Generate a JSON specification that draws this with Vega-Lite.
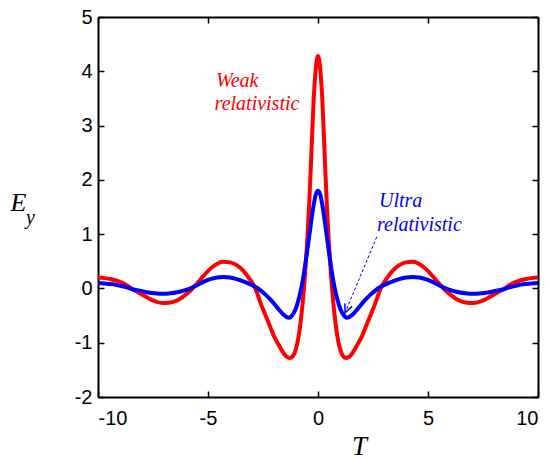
{
  "$schema": "https://vega.github.io/schema/vega-lite/v6.json",
  "width": 440,
  "height": 380,
  "autosize": {"type": "none"},
  "padding": {"left": 98, "top": 17, "right": 12, "bottom": 62},
  "background": "white",
  "config": {"view": {"stroke": null}, "axis": {"grid": false}},
  "datasets": {
    "curves": [
      {"series": "Weak", "T": -10, "E": 0.2}, {"series": "Weak", "T": -9.7, "E": 0.19}, {"series": "Weak", "T": -9.4, "E": 0.17}, {"series": "Weak", "T": -9.0, "E": 0.12}, {"series": "Weak", "T": -8.7, "E": 0.06}, {"series": "Weak", "T": -8.4, "E": -0.02}, {"series": "Weak", "T": -8.1, "E": -0.09}, {"series": "Weak", "T": -7.8, "E": -0.16}, {"series": "Weak", "T": -7.4, "E": -0.24}, {"series": "Weak", "T": -7.05, "E": -0.27}, {"series": "Weak", "T": -6.7, "E": -0.26}, {"series": "Weak", "T": -6.3, "E": -0.2}, {"series": "Weak", "T": -6.0, "E": -0.11}, {"series": "Weak", "T": -5.75, "E": -0.02}, {"series": "Weak", "T": -5.5, "E": 0.09}, {"series": "Weak", "T": -5.2, "E": 0.23}, {"series": "Weak", "T": -4.9, "E": 0.36}, {"series": "Weak", "T": -4.6, "E": 0.45}, {"series": "Weak", "T": -4.3, "E": 0.49}, {"series": "Weak", "T": -4.0, "E": 0.48}, {"series": "Weak", "T": -3.7, "E": 0.43}, {"series": "Weak", "T": -3.4, "E": 0.33}, {"series": "Weak", "T": -3.1, "E": 0.17}, {"series": "Weak", "T": -2.85, "E": 0.0}, {"series": "Weak", "T": -2.6, "E": -0.28}, {"series": "Weak", "T": -2.4, "E": -0.48}, {"series": "Weak", "T": -2.2, "E": -0.68}, {"series": "Weak", "T": -2.0, "E": -0.88}, {"series": "Weak", "T": -1.8, "E": -1.03}, {"series": "Weak", "T": -1.6, "E": -1.17}, {"series": "Weak", "T": -1.45, "E": -1.25}, {"series": "Weak", "T": -1.3, "E": -1.28}, {"series": "Weak", "T": -1.2, "E": -1.27}, {"series": "Weak", "T": -1.1, "E": -1.22}, {"series": "Weak", "T": -1.0, "E": -1.11}, {"series": "Weak", "T": -0.9, "E": -0.93}, {"series": "Weak", "T": -0.8, "E": -0.65}, {"series": "Weak", "T": -0.7, "E": -0.28}, {"series": "Weak", "T": -0.6, "E": 0.2}, {"series": "Weak", "T": -0.5, "E": 0.8}, {"series": "Weak", "T": -0.4, "E": 1.55}, {"series": "Weak", "T": -0.3, "E": 2.5}, {"series": "Weak", "T": -0.2, "E": 3.45}, {"series": "Weak", "T": -0.1, "E": 4.05}, {"series": "Weak", "T": 0, "E": 4.28},
      {"series": "Weak", "T": 0.1, "E": 4.05}, {"series": "Weak", "T": 0.2, "E": 3.45}, {"series": "Weak", "T": 0.3, "E": 2.5}, {"series": "Weak", "T": 0.4, "E": 1.55}, {"series": "Weak", "T": 0.5, "E": 0.8}, {"series": "Weak", "T": 0.6, "E": 0.2}, {"series": "Weak", "T": 0.7, "E": -0.28}, {"series": "Weak", "T": 0.8, "E": -0.65}, {"series": "Weak", "T": 0.9, "E": -0.93}, {"series": "Weak", "T": 1.0, "E": -1.11}, {"series": "Weak", "T": 1.1, "E": -1.22}, {"series": "Weak", "T": 1.2, "E": -1.27}, {"series": "Weak", "T": 1.3, "E": -1.28}, {"series": "Weak", "T": 1.45, "E": -1.25}, {"series": "Weak", "T": 1.6, "E": -1.17}, {"series": "Weak", "T": 1.8, "E": -1.03}, {"series": "Weak", "T": 2.0, "E": -0.88}, {"series": "Weak", "T": 2.2, "E": -0.68}, {"series": "Weak", "T": 2.4, "E": -0.48}, {"series": "Weak", "T": 2.6, "E": -0.28}, {"series": "Weak", "T": 2.85, "E": 0.0}, {"series": "Weak", "T": 3.1, "E": 0.17}, {"series": "Weak", "T": 3.4, "E": 0.33}, {"series": "Weak", "T": 3.7, "E": 0.43}, {"series": "Weak", "T": 4.0, "E": 0.48}, {"series": "Weak", "T": 4.3, "E": 0.49}, {"series": "Weak", "T": 4.6, "E": 0.45}, {"series": "Weak", "T": 4.9, "E": 0.36}, {"series": "Weak", "T": 5.2, "E": 0.23}, {"series": "Weak", "T": 5.5, "E": 0.09}, {"series": "Weak", "T": 5.75, "E": -0.02}, {"series": "Weak", "T": 6.0, "E": -0.11}, {"series": "Weak", "T": 6.3, "E": -0.2}, {"series": "Weak", "T": 6.7, "E": -0.26}, {"series": "Weak", "T": 7.05, "E": -0.27}, {"series": "Weak", "T": 7.4, "E": -0.24}, {"series": "Weak", "T": 7.8, "E": -0.16}, {"series": "Weak", "T": 8.1, "E": -0.09}, {"series": "Weak", "T": 8.4, "E": -0.02}, {"series": "Weak", "T": 8.7, "E": 0.06}, {"series": "Weak", "T": 9.0, "E": 0.12}, {"series": "Weak", "T": 9.4, "E": 0.17}, {"series": "Weak", "T": 9.7, "E": 0.19}, {"series": "Weak", "T": 10, "E": 0.2},
      {"series": "Ultra", "T": -10, "E": 0.1}, {"series": "Ultra", "T": -9.7, "E": 0.09}, {"series": "Ultra", "T": -9.4, "E": 0.08}, {"series": "Ultra", "T": -9.0, "E": 0.05}, {"series": "Ultra", "T": -8.7, "E": 0.02}, {"series": "Ultra", "T": -8.4, "E": -0.02}, {"series": "Ultra", "T": -8.1, "E": -0.04}, {"series": "Ultra", "T": -7.8, "E": -0.07}, {"series": "Ultra", "T": -7.4, "E": -0.09}, {"series": "Ultra", "T": -7.05, "E": -0.1}, {"series": "Ultra", "T": -6.7, "E": -0.09}, {"series": "Ultra", "T": -6.4, "E": -0.07}, {"series": "Ultra", "T": -6.1, "E": -0.04}, {"series": "Ultra", "T": -5.8, "E": 0.0}, {"series": "Ultra", "T": -5.5, "E": 0.06}, {"series": "Ultra", "T": -5.2, "E": 0.12}, {"series": "Ultra", "T": -4.9, "E": 0.17}, {"series": "Ultra", "T": -4.6, "E": 0.2}, {"series": "Ultra", "T": -4.3, "E": 0.21}, {"series": "Ultra", "T": -4.0, "E": 0.2}, {"series": "Ultra", "T": -3.7, "E": 0.17}, {"series": "Ultra", "T": -3.4, "E": 0.13}, {"series": "Ultra", "T": -3.1, "E": 0.08}, {"series": "Ultra", "T": -2.85, "E": 0.03}, {"series": "Ultra", "T": -2.6, "E": -0.04}, {"series": "Ultra", "T": -2.4, "E": -0.11}, {"series": "Ultra", "T": -2.2, "E": -0.19}, {"series": "Ultra", "T": -2.0, "E": -0.28}, {"series": "Ultra", "T": -1.8, "E": -0.38}, {"series": "Ultra", "T": -1.6, "E": -0.47}, {"series": "Ultra", "T": -1.45, "E": -0.52}, {"series": "Ultra", "T": -1.3, "E": -0.54}, {"series": "Ultra", "T": -1.2, "E": -0.51}, {"series": "Ultra", "T": -1.1, "E": -0.45}, {"series": "Ultra", "T": -1.0, "E": -0.36}, {"series": "Ultra", "T": -0.9, "E": -0.23}, {"series": "Ultra", "T": -0.8, "E": -0.07}, {"series": "Ultra", "T": -0.7, "E": 0.13}, {"series": "Ultra", "T": -0.6, "E": 0.38}, {"series": "Ultra", "T": -0.5, "E": 0.66}, {"series": "Ultra", "T": -0.4, "E": 0.96}, {"series": "Ultra", "T": -0.3, "E": 1.26}, {"series": "Ultra", "T": -0.2, "E": 1.53}, {"series": "Ultra", "T": -0.1, "E": 1.73}, {"series": "Ultra", "T": 0, "E": 1.8},
      {"series": "Ultra", "T": 0.1, "E": 1.73}, {"series": "Ultra", "T": 0.2, "E": 1.53}, {"series": "Ultra", "T": 0.3, "E": 1.26}, {"series": "Ultra", "T": 0.4, "E": 0.96}, {"series": "Ultra", "T": 0.5, "E": 0.66}, {"series": "Ultra", "T": 0.6, "E": 0.38}, {"series": "Ultra", "T": 0.7, "E": 0.13}, {"series": "Ultra", "T": 0.8, "E": -0.07}, {"series": "Ultra", "T": 0.9, "E": -0.23}, {"series": "Ultra", "T": 1.0, "E": -0.36}, {"series": "Ultra", "T": 1.1, "E": -0.45}, {"series": "Ultra", "T": 1.2, "E": -0.51}, {"series": "Ultra", "T": 1.3, "E": -0.54}, {"series": "Ultra", "T": 1.45, "E": -0.52}, {"series": "Ultra", "T": 1.6, "E": -0.47}, {"series": "Ultra", "T": 1.8, "E": -0.38}, {"series": "Ultra", "T": 2.0, "E": -0.28}, {"series": "Ultra", "T": 2.2, "E": -0.19}, {"series": "Ultra", "T": 2.4, "E": -0.11}, {"series": "Ultra", "T": 2.6, "E": -0.04}, {"series": "Ultra", "T": 2.85, "E": 0.03}, {"series": "Ultra", "T": 3.1, "E": 0.08}, {"series": "Ultra", "T": 3.4, "E": 0.13}, {"series": "Ultra", "T": 3.7, "E": 0.17}, {"series": "Ultra", "T": 4.0, "E": 0.2}, {"series": "Ultra", "T": 4.3, "E": 0.21}, {"series": "Ultra", "T": 4.6, "E": 0.2}, {"series": "Ultra", "T": 4.9, "E": 0.17}, {"series": "Ultra", "T": 5.2, "E": 0.12}, {"series": "Ultra", "T": 5.5, "E": 0.06}, {"series": "Ultra", "T": 5.8, "E": 0.0}, {"series": "Ultra", "T": 6.1, "E": -0.04}, {"series": "Ultra", "T": 6.4, "E": -0.07}, {"series": "Ultra", "T": 6.7, "E": -0.09}, {"series": "Ultra", "T": 7.05, "E": -0.1}, {"series": "Ultra", "T": 7.4, "E": -0.09}, {"series": "Ultra", "T": 7.8, "E": -0.07}, {"series": "Ultra", "T": 8.1, "E": -0.04}, {"series": "Ultra", "T": 8.4, "E": -0.02}, {"series": "Ultra", "T": 8.7, "E": 0.02}, {"series": "Ultra", "T": 9.0, "E": 0.05}, {"series": "Ultra", "T": 9.4, "E": 0.08}, {"series": "Ultra", "T": 9.7, "E": 0.09}, {"series": "Ultra", "T": 10, "E": 0.1}
    ],
    "notes": [
      {"series": "Weak", "T": -4.64, "E": 3.71, "text": "Weak"},
      {"series": "Weak", "T": -4.7, "E": 3.29, "text": "relativistic"},
      {"series": "Ultra", "T": 2.77, "E": 1.5, "text": "Ultra"},
      {"series": "Ultra", "T": 2.68, "E": 1.06, "text": "relativistic"}
    ],
    "arrow": [
      {"series": "Ultra", "T": 2.67, "E": 0.95, "T2": 1.23, "E2": -0.45}
    ]
  },
  "resolve": {"axis": {"x": "independent", "y": "independent"}},
  "layer": [
    {
      "data": {"name": "curves"},
      "mark": {"type": "line", "strokeWidth": 4, "interpolate": "monotone"},
      "encoding": {
        "x": {"field": "T", "type": "quantitative",
          "scale": {"domain": [-10, 10], "nice": false, "zero": false},
          "axis": {"orient": "bottom", "values": [-10, -5, 0, 5, 10], "tickSize": -6, "labelPadding": 17,
            "domainColor": "black", "domainWidth": 2, "tickColor": "black", "tickWidth": 1.5,
            "labelFont": "Liberation Sans", "labelFontSize": 20, "labelColor": "black",
            "labelExpr": "replace(datum.label, '−', '-')",
            "title": "T", "titleFont": "Liberation Serif", "titleFontStyle": "italic", "titleFontWeight": "normal",
            "titleFontSize": 27, "titleColor": "black", "titleX": 261, "titleY": 57, "titleAlign": "center", "titleBaseline": "alphabetic"}},
        "y": {"field": "E", "type": "quantitative",
          "scale": {"domain": [-2, 5], "nice": false, "zero": false},
          "axis": {"orient": "left", "values": [-2, -1, 0, 1, 2, 3, 4, 5], "tickSize": -6, "labelPadding": 12,
            "domainColor": "black", "domainWidth": 2, "tickColor": "black", "tickWidth": 1.5,
            "labelFont": "Liberation Sans", "labelFontSize": 20, "labelColor": "black",
            "labelExpr": "replace(datum.label, '−', '-')",
            "title": "E", "titleFont": "Liberation Serif", "titleFontStyle": "italic", "titleFontWeight": "normal",
            "titleFontSize": 26, "titleColor": "black", "titleAngle": 0, "titleX": -80, "titleY": 193, "titleAlign": "center", "titleBaseline": "alphabetic"}},
        "color": {"field": "series", "type": "nominal",
          "scale": {"domain": ["Weak", "Ultra"], "range": ["#ff0000", "#0000ff"]}, "legend": null}
      }
    },
    {
      "data": {"name": "notes"},
      "mark": {"type": "text", "font": "Liberation Serif", "fontStyle": "italic", "fontSize": 20, "align": "left", "baseline": "alphabetic"},
      "encoding": {
        "x": {"field": "T", "type": "quantitative", "axis": null},
        "y": {"field": "E", "type": "quantitative", "axis": null},
        "text": {"field": "text"},
        "color": {"field": "series", "type": "nominal", "legend": null}
      }
    },
    {
      "data": {"name": "arrow"},
      "mark": {"type": "point", "shape": "M-0.45,-1L0,0L0.45,-1", "filled": false, "strokeWidth": 1.5, "size": 300, "angle": 23, "opacity": 1},
      "encoding": {
        "x": {"field": "T2", "type": "quantitative", "axis": null},
        "y": {"field": "E2", "type": "quantitative", "axis": null},
        "color": {"field": "series", "type": "nominal", "legend": null}
      }
    },
    {
      "data": {"name": "arrow"},
      "mark": {"type": "rule", "strokeWidth": 1, "strokeDash": [3, 2]},
      "encoding": {
        "x": {"field": "T", "type": "quantitative",
          "axis": {"orient": "top", "values": [-10, -5, 0, 5, 10], "tickSize": -6, "labels": false,
            "domainColor": "black", "domainWidth": 2, "tickColor": "black", "tickWidth": 1.5, "title": null}},
        "y": {"field": "E", "type": "quantitative",
          "axis": {"orient": "right", "values": [-2, -1, 0, 1, 2, 3, 4, 5], "tickSize": -6, "labels": false,
            "domainColor": "black", "domainWidth": 2, "tickColor": "black", "tickWidth": 1.5,
            "title": "y", "titleFont": "Liberation Serif", "titleFontStyle": "italic", "titleFontWeight": "normal",
            "titleFontSize": 20, "titleColor": "black", "titleAngle": 0, "titleX": -508, "titleY": 206, "titleAlign": "center", "titleBaseline": "alphabetic"}},
        "x2": {"field": "T2"},
        "y2": {"field": "E2"},
        "color": {"field": "series", "type": "nominal", "legend": null}
      }
    }
  ]
}
